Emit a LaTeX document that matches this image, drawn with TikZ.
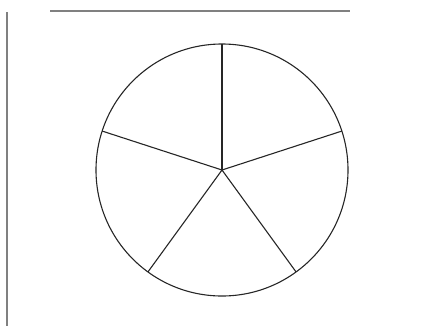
\documentclass[tikz,border=0pt]{standalone}
\usetikzlibrary{calc}
\begin{document}
\begin{tikzpicture}[x=1pt,y=-1pt,
  rim/.style={draw=black!85,line width=1.1pt},
  spoke/.style={draw=black!85,line width=1.1pt},
  frame/.style={draw=black!50,line width=1.2pt}]
\useasboundingbox (0,0) rectangle (435,330);
\coordinate (c) at (222,170);
\draw[rim] (c) circle[radius=126];
\foreach \a [count=\i] in {-90,-18,54,126,198}{
  \coordinate (p\i) at ($(c)+(\a:126)$);
}
\foreach \i in {1,...,5}{\draw[spoke] (c) -- (p\i);}
\coordinate (t1) at (50,11);
\coordinate (t2) at (350,11);
\coordinate (l1) at (7,12);
\coordinate (l2) at (7,326);
\draw[frame] (t1) -- (t2);
\draw[frame] (l1) -- (l2);
\end{tikzpicture}
\end{document}
